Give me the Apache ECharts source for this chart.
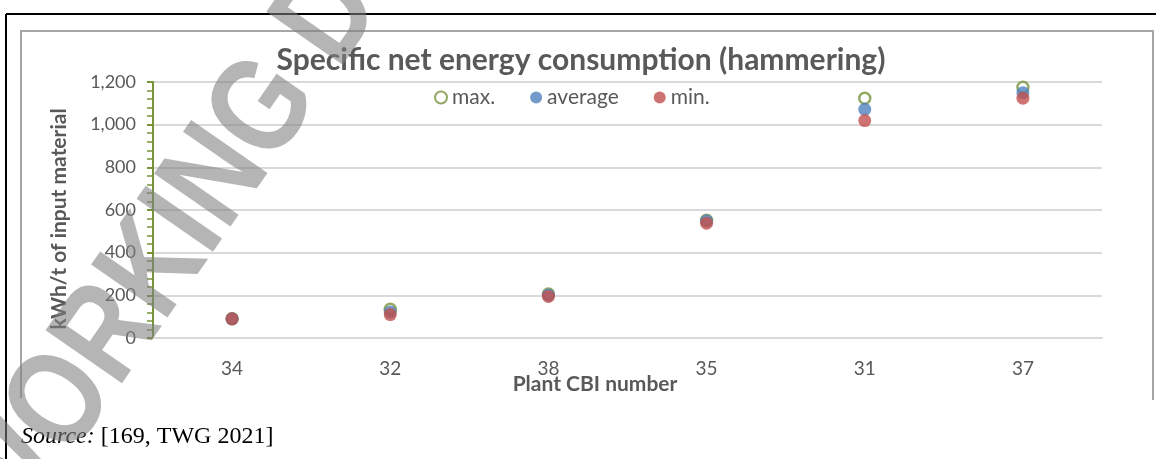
<!DOCTYPE html>
<html>
<head>
<meta charset="utf-8">
<script src="https://cdn.jsdelivr.net/npm/echarts@6/dist/echarts.min.js"></script>
<style>
  html, body { margin: 0; padding: 0; background: #fff; }
  #chart { width: 1156px; height: 459px; }
</style>
</head>
<body>
<div id="chart"></div>
<script>
// Plant identifiers along the horizontal axis
const categories = ['34', '32', '38', '35', '31', '37'];
// Specific net energy consumption, kWh per tonne of input material
const maxValues = [90, 135, 206, 552, 1124, 1175];
const averageValues = [90, 122, 201, 549, 1072, 1150];
const minValues = [90, 110, 195, 538, 1019, 1124];
// Y axis range and step
const yMin = 0;
const yMax = 1200;
const yStep = 200;

const GREEN = '#77933c';
const BLUE = '#4f81bd';
const RED = '#c0504d';
const TEXT = '#595959';
const UI_FONT = 'Lato, "Open Sans", sans-serif';

const chart = echarts.init(document.getElementById('chart'), null, { renderer: 'canvas' });

chart.setOption({
  animation: false,
  backgroundColor: '#ffffff',
  grid: { left: 153, right: 54, top: 82, bottom: 121, containLabel: false },
  legend: {
    left: 429,
    top: 82,
    itemGap: 35,
    itemWidth: 12,
    itemHeight: 12,
    icon: 'circle',
    textStyle: { color: TEXT, fontSize: 21, fontFamily: UI_FONT },
    data: ['max.', 'average', 'min.']
  },
  xAxis: {
    type: 'category',
    data: categories,
    boundaryGap: true,
    axisLine: { show: true, lineStyle: { color: '#d9d9d9', width: 2 } },
    axisTick: { show: false },
    axisLabel: { color: TEXT, fontSize: 19, fontFamily: UI_FONT, margin: 21 },
    splitLine: { show: false }
  },
  yAxis: {
    type: 'value',
    min: yMin,
    max: yMax,
    interval: yStep,
    axisLine: { show: true, lineStyle: { color: GREEN, width: 2 } },
    axisTick: { show: true, length: 6, inside: false, lineStyle: { color: GREEN, width: 2 } },
    minorTick: { show: true, splitNumber: 5, length: 6, lineStyle: { color: GREEN, width: 1.5 } },
    axisLabel: {
      color: TEXT, fontSize: 18, fontFamily: UI_FONT, margin: 17,
      formatter: v => v.toLocaleString('en-US')
    },
    splitLine: { show: true, lineStyle: { color: '#d9d9d9', width: 2 } }
  },
  series: [
    {
      name: 'max.',
      type: 'scatter',
      data: maxValues,
      symbol: 'circle',
      symbolSize: 11,
      itemStyle: { color: '#ffffff', borderColor: GREEN, borderWidth: 2.5 },
      z: 2
    },
    {
      name: 'average',
      type: 'scatter',
      data: averageValues,
      symbol: 'circle',
      symbolSize: 13,
      itemStyle: { color: BLUE },
      z: 3
    },
    {
      name: 'min.',
      type: 'scatter',
      data: minValues,
      symbol: 'circle',
      symbolSize: 13,
      itemStyle: { color: RED },
      z: 4
    }
  ],
  graphic: [
    // outer page frame
    { type: 'line', shape: { x1: 6, y1: 14, x2: 1156, y2: 14 }, style: { stroke: '#000', lineWidth: 2 }, z: 1 },
    { type: 'line', shape: { x1: 6, y1: 14, x2: 6, y2: 459 }, style: { stroke: '#000', lineWidth: 2 }, z: 1 },
    // chart area border
    { type: 'polyline', shape: { points: [[21, 398], [21, 31], [1153, 31], [1153, 400]] }, style: { stroke: '#a6a6a6', lineWidth: 2, fill: null }, z: 1 },
    // chart title
    {
      type: 'text', x: 581, y: 60,
      style: { text: 'Specific net energy consumption (hammering)', align: 'center', verticalAlign: 'middle',
               fill: TEXT, font: 'bold 30px Lato, "Open Sans", sans-serif' },
      z: 5
    },
    // axis titles
    {
      type: 'text', x: 595, y: 384,
      style: { text: 'Plant CBI number', align: 'center', verticalAlign: 'middle',
               fill: TEXT, font: 'bold 21px Lato, "Open Sans", sans-serif' },
      z: 5
    },
    {
      type: 'text', x: 59, y: 219, rotation: Math.PI / 2,
      style: { text: 'kWh/t of input material', align: 'center', verticalAlign: 'middle',
               fill: TEXT, font: 'bold 21px Lato, "Open Sans", sans-serif' },
      z: 5
    },
    // source line
    {
      type: 'text', x: 21, y: 437,
      style: { text: '{i|Source:} [169, TWG 2021]', align: 'left', verticalAlign: 'middle',
               fill: '#000', font: '24px "Liberation Serif", "Times New Roman", serif',
               rich: { i: { fontStyle: 'italic', fontFamily: '"Liberation Serif", serif', fontSize: 24, fill: '#000' } } },
      z: 5
    },
    // draft watermark, narrowed letters on a diagonal
    {
      type: 'text', x: 250, y: 133, rotation: 0.965, scaleX: 0.82, scaleY: 1,
      style: { text: 'WORKING DRAFT', align: 'center', verticalAlign: 'middle',
               fill: 'rgba(128,128,128,0.58)', font: 'bold 135px "Liberation Sans", Arial, sans-serif' },
      z: 100
    }
  ]
});
</script>
</body>
</html>
